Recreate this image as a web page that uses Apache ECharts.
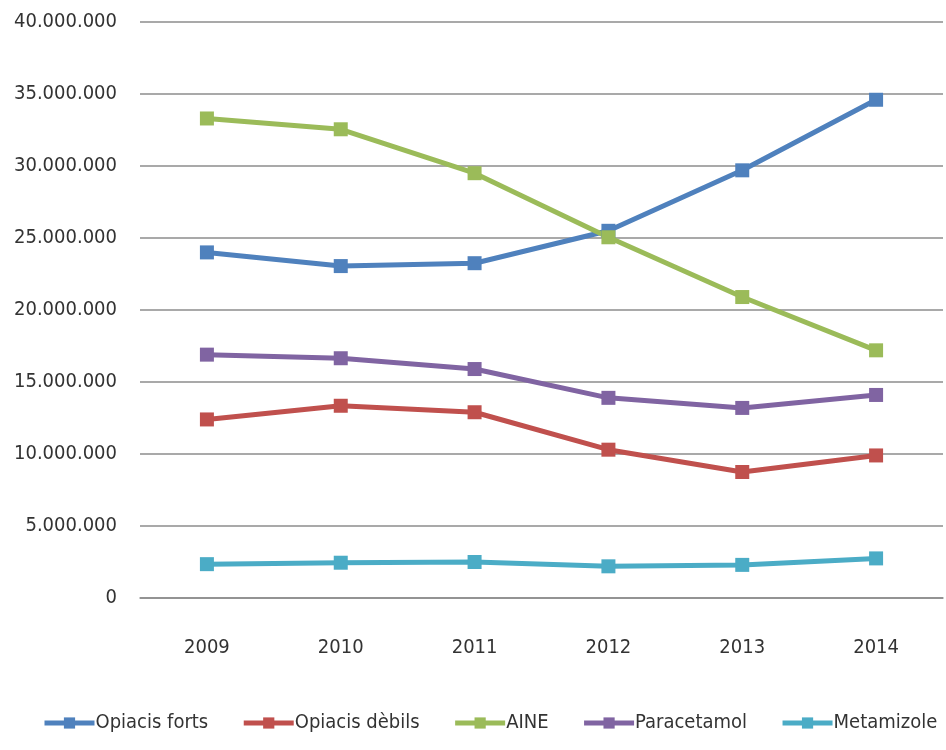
<!DOCTYPE html>
<html><head><meta charset="utf-8">
<script src="https://cdn.jsdelivr.net/npm/echarts@6/dist/echarts.min.js"></script>
<style>html,body{margin:0;padding:0;background:#fff}#c{width:946px;height:750px}</style>
</head><body><div id="c"></div>
<script>
const years = ['2009','2010','2011','2012','2013','2014'];
const opiacisForts = [24000000, 23050000, 23250000, 25500000, 29700000, 34600000];
const opiacisDebils = [12400000, 13350000, 12900000, 10300000, 8750000, 9900000];
const aine = [33300000, 32550000, 29500000, 25050000, 20900000, 17200000];
const paracetamol = [16900000, 16650000, 15900000, 13900000, 13200000, 14100000];
const metamizole = [2350000, 2450000, 2500000, 2200000, 2300000, 2750000];
const seriesNames = ['Opiacis forts','Opiacis dèbils','AINE','Paracetamol','Metamizole'];
const colors = ['#4F81BD','#C0504D','#9BBB59','#8064A2','#4BACC6'];
const seriesData = [opiacisForts, opiacisDebils, aine, paracetamol, metamizole];
const FONT = '"DejaVu Sans Condensed", "Liberation Sans Narrow", sans-serif';

function fmt(v){ return String(v).replace(/\B(?=(\d{3})+(?!\d))/g,'.'); }

const chart = echarts.init(document.getElementById('c'));
chart.setOption({
  animation:false,
  color: colors,
  textStyle:{fontFamily:FONT},
  grid:{left:140, right:3, top:22, bottom:152, containLabel:false},
  legend:{
    bottom:17, left:42, right:0, padding:0,
    data: seriesNames,
    itemWidth:50, itemHeight:14, itemGap:33,
    lineStyle:{width:5},
    textStyle:{fontFamily:FONT, fontSize:20, color:'#333', padding:[0,0,0,-4]}
  },
  xAxis:{
    type:'category', data:years, boundaryGap:true,
    axisLine:{show:true, lineStyle:{color:'#8c8c8c', width:1.5}},
    axisTick:{show:false},
    axisLabel:{fontFamily:FONT, fontSize:20, color:'#333', margin:40}
  },
  yAxis:{
    type:'value', min:0, max:40000000, interval:5000000,
    axisLine:{show:false}, axisTick:{show:false},
    splitLine:{lineStyle:{color:'#8c8c8c', width:1.5}},
    axisLabel:{fontFamily:FONT, fontSize:20, color:'#333', margin:23, formatter:fmt}
  },
  series: seriesNames.map((n,i)=>({
    name:n, type:'line', data:seriesData[i],
    symbol:'rect', symbolSize:14,
    lineStyle:{width:5, color:colors[i]},
    itemStyle:{color:colors[i]}
  }))
});
</script></body></html>
